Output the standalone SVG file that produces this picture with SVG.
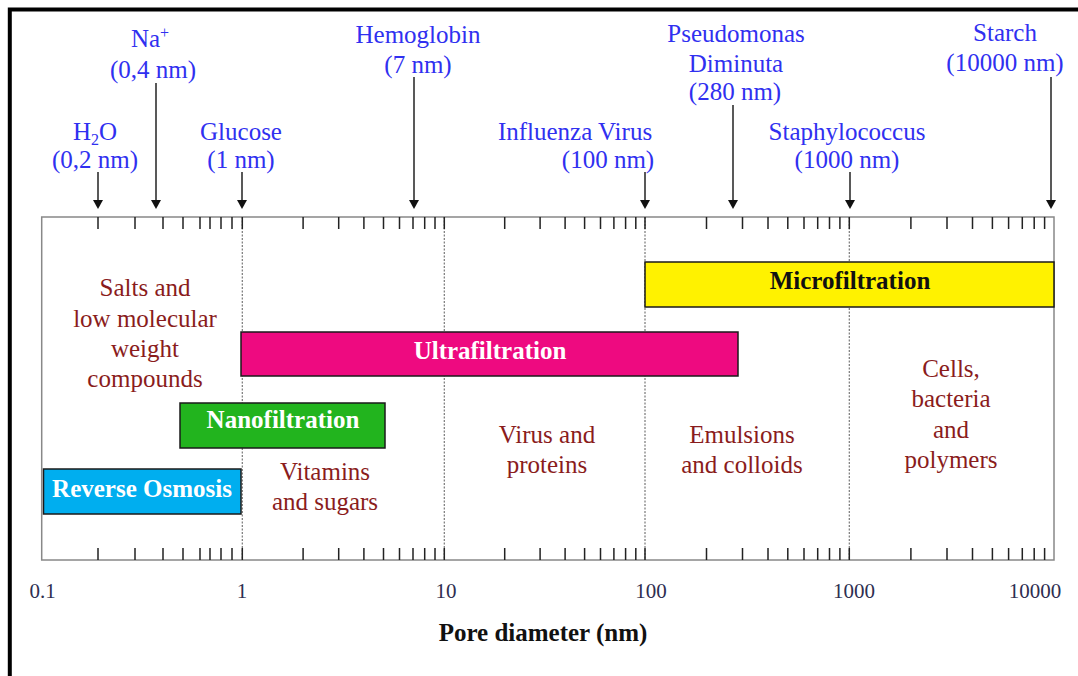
<svg xmlns="http://www.w3.org/2000/svg" width="1078" height="676" viewBox="0 0 1078 676">
<defs>
<style>
.lbl{font-family:"Liberation Serif","Times New Roman",serif;font-size:25px;fill:#3030f0;text-anchor:middle}
.reg{font-family:"Liberation Serif","Times New Roman",serif;font-size:25px;fill:#8a1c1c;text-anchor:middle}
.bar{stroke:#1a1a1a;stroke-width:1.5}
.bt{font-family:"Liberation Serif","Times New Roman",serif;font-size:25px;font-weight:bold;text-anchor:middle}
.num{font-family:"Liberation Serif","Times New Roman",serif;font-size:21px;fill:#2e2e50;text-anchor:middle}
.tick{stroke:#222;stroke-width:1.5;fill:none}
.grid{stroke:#777;stroke-width:1.2;stroke-dasharray:2 1.5;fill:none}
.arr{stroke:#222;stroke-width:1.5;fill:none;marker-end:url(#ah)}
</style>
<marker id="ah" markerUnits="userSpaceOnUse" viewBox="0 -5 9 10" markerWidth="9" markerHeight="10" refX="0" refY="0" orient="auto">
<path d="M0,-5 L9,0 L0,5 Z" fill="#111"/>
</marker>
</defs>
<rect width="1078" height="676" fill="#fff"/>
<g id="frame" stroke="#000" stroke-width="4" fill="none">
<path d="M9.8,676 V9.5 H1078"/>
</g>
<g id="axis">
<rect x="41.7" y="217" width="1012.3" height="343" fill="none" stroke="#888" stroke-width="1.5"/>
<path class="grid" d="M242.3,217V560 M444.3,217V560 M645,217V560 M849.3,217V560"/>
<path class="tick" d="M98,217v12 M135,217v12 M163,217v12 M183,217v12 M200,217v12 M210,217v12 M221,217v12 M232,217v12 M242.3,217v12 M303.1,217v12 M338.7,217v12 M363.9,217v12 M383.5,217v12 M399.5,217v12 M413,217v12 M424.7,217v12 M435,217v12 M444.3,217v12 M504.7,217v12 M540.1,217v12 M565.1,217v12 M584.6,217v12 M600.5,217v12 M613.9,217v12 M625.6,217v12 M635.8,217v12 M645,217v12 M706.5,217v12 M742.5,217v12 M768,217v12 M787.8,217v12 M804,217v12 M817.7,217v12 M829.5,217v12 M839.9,217v12 M849.3,217v12 M910.9,217v12 M947,217v12 M972.5,217v12 M992.4,217v12 M1008.6,217v12 M1022.3,217v12 M1034.2,217v12 M1044.6,217v12"/>
<path class="tick" d="M98,560v-12 M135,560v-12 M163,560v-12 M183,560v-12 M200,560v-12 M210,560v-12 M221,560v-12 M232,560v-12 M242.3,560v-12 M303.1,560v-12 M338.7,560v-12 M363.9,560v-12 M383.5,560v-12 M399.5,560v-12 M413,560v-12 M424.7,560v-12 M435,560v-12 M444.3,560v-12 M504.7,560v-12 M540.1,560v-12 M565.1,560v-12 M584.6,560v-12 M600.5,560v-12 M613.9,560v-12 M625.6,560v-12 M635.8,560v-12 M645,560v-12 M706.5,560v-12 M742.5,560v-12 M768,560v-12 M787.8,560v-12 M804,560v-12 M817.7,560v-12 M829.5,560v-12 M839.9,560v-12 M849.3,560v-12 M910.9,560v-12 M947,560v-12 M972.5,560v-12 M992.4,560v-12 M1008.6,560v-12 M1022.3,560v-12 M1034.2,560v-12 M1044.6,560v-12"/>
<text class="num" x="42.5" y="598">0.1</text>
<text class="num" x="242" y="598">1</text>
<text class="num" x="446" y="598">10</text>
<text class="num" x="651" y="598">100</text>
<text class="num" x="854" y="598">1000</text>
<text class="num" x="1035" y="598">10000</text>
<text class="bt" x="543" y="641" fill="#111">Pore diameter (nm)</text>
</g>
<g id="microfiltration">
<rect class="bar" x="645" y="262" width="409" height="45" fill="#fff200"/>
<text class="bt" x="850" y="289" fill="#111">Microfiltration</text>
</g>
<g id="ultrafiltration">
<rect class="bar" x="241" y="332" width="497" height="44" fill="#ee0a80"/>
<text class="bt" x="490" y="359" fill="#fff">Ultrafiltration</text>
</g>
<g id="nanofiltration">
<rect class="bar" x="180" y="403" width="205" height="45" fill="#22b41e"/>
<text class="bt" x="283" y="428" fill="#fff">Nanofiltration</text>
</g>
<g id="reverse-osmosis">
<rect class="bar" x="43.5" y="469" width="197.5" height="45" fill="#00aeef"/>
<text class="bt" x="142" y="497" fill="#fff">Reverse Osmosis</text>
</g>
<g id="region-salts">
<text class="reg" x="145" y="296">Salts and</text>
<text class="reg" x="145" y="327">low molecular</text>
<text class="reg" x="145" y="357">weight</text>
<text class="reg" x="145" y="387">compounds</text>
</g>
<g id="region-vitamins">
<text class="reg" x="325" y="480">Vitamins</text>
<text class="reg" x="325" y="510">and sugars</text>
</g>
<g id="region-virus">
<text class="reg" x="547" y="443">Virus and</text>
<text class="reg" x="547" y="473">proteins</text>
</g>
<g id="region-emulsions">
<text class="reg" x="742" y="443">Emulsions</text>
<text class="reg" x="742" y="473">and colloids</text>
</g>
<g id="region-cells">
<text class="reg" x="951" y="377">Cells,</text>
<text class="reg" x="951" y="407">bacteria</text>
<text class="reg" x="951" y="438">and</text>
<text class="reg" x="951" y="468">polymers</text>
</g>
<g id="label-h2o">
<text class="lbl" x="95" y="140">H<tspan font-size="16" dy="5">2</tspan><tspan dy="-5">O</tspan></text>
<text class="lbl" x="95" y="168">(0,2 nm)</text>
</g>
<g id="label-na">
<text class="lbl" x="150" y="47">Na<tspan font-size="16" dy="-9">+</tspan></text>
<text class="lbl" x="153" y="78">(0,4 nm)</text>
</g>
<g id="label-glucose">
<text class="lbl" x="241" y="140">Glucose</text>
<text class="lbl" x="241" y="168">(1 nm)</text>
</g>
<g id="label-hemoglobin">
<text class="lbl" x="418" y="43">Hemoglobin</text>
<text class="lbl" x="418" y="73">(7 nm)</text>
</g>
<g id="label-influenza">
<text class="lbl" x="575" y="140">Influenza Virus</text>
<text class="lbl" x="608" y="168">(100 nm)</text>
</g>
<g id="label-pseudomonas">
<text class="lbl" x="736" y="42">Pseudomonas</text>
<text class="lbl" x="736" y="72">Diminuta</text>
<text class="lbl" x="735" y="100">(280 nm)</text>
</g>
<g id="label-staphylococcus">
<text class="lbl" x="847" y="140">Staphylococcus</text>
<text class="lbl" x="847" y="168">(1000 nm)</text>
</g>
<g id="label-starch">
<text class="lbl" x="1005" y="41">Starch</text>
<text class="lbl" x="1005" y="71">(10000 nm)</text>
</g>
<g id="connectors">
<path class="arr" d="M98,172V200"/>
<path class="arr" d="M156,83V200"/>
<path class="arr" d="M242,172V200"/>
<path class="arr" d="M414,77V200"/>
<path class="arr" d="M645,172V200"/>
<path class="arr" d="M733,105V200"/>
<path class="arr" d="M850,172V200"/>
<path class="arr" d="M1051,77V200"/>
</g>
</svg>
